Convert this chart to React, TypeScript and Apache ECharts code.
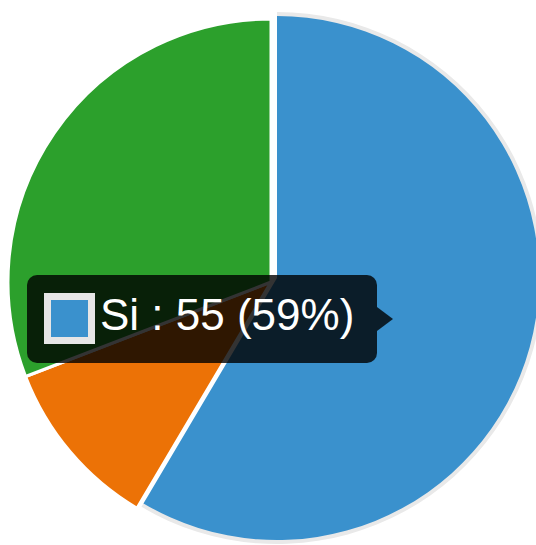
import React, { useEffect, useRef } from "react";
import * as echarts from "echarts";

const names = ["Si", "No", "Tal vez"];
const values = [55, 10, 29];
const colors = ["#3a91cd", "#ec7206", "#2ca02c"];
const hoveredIndex = 0;

export default function App() {
  const ref = useRef<HTMLDivElement>(null);

  useEffect(() => {
    document.body.style.margin = "0";
    if (!ref.current) return;
    const chart = echarts.init(ref.current, null, { renderer: "svg" });

    const total = values.reduce((a, b) => a + b, 0);
    const pct = Math.round((values[hoveredIndex] / total) * 100);
    const tipText = `${names[hoveredIndex]} : ${values[hoveredIndex]} (${pct}%)`;

    const baseData = values.map((v, i) => ({
      name: names[i],
      value: v,
      itemStyle:
        i === hoveredIndex
          ? { color: "rgba(0,0,0,0)", borderWidth: 0 }
          : { color: colors[i], borderColor: "#ffffff", borderWidth: 3 },
    }));

    const ringData = values.map((v, i) => ({
      name: names[i],
      value: v,
      itemStyle:
        i === hoveredIndex
          ? { color: "#e9e9e9", borderWidth: 0 }
          : { color: "rgba(0,0,0,0)", borderWidth: 0 },
    }));

    const hoverData = values.map((v, i) => ({
      name: names[i],
      value: v,
      itemStyle:
        i === hoveredIndex
          ? { color: colors[i], borderWidth: 0 }
          : { color: "rgba(0,0,0,0)", borderWidth: 0 },
    }));

    const common = {
      type: "pie" as const,
      startAngle: 90,
      clockwise: true,
      silent: true,
      label: { show: false },
      labelLine: { show: false },
      emphasis: { disabled: true },
    };

    chart.setOption({
      animation: false,
      backgroundColor: "#ffffff",
      series: [
        { ...common, center: [271, 282], radius: 263, data: baseData, z: 1 },
        { ...common, center: [277, 278], radius: [255, 266], data: ringData, z: 2 },
        { ...common, center: [277, 278], radius: 262, data: hoverData, z: 3 },
      ],
      graphic: [
        {
          type: "rect",
          z: 100,
          shape: { x: 27, y: 275, width: 350, height: 88, r: 10 },
          style: { fill: "rgba(0,0,0,0.8)" },
        },
        {
          type: "polygon",
          z: 100,
          shape: { points: [[377, 307], [393, 319], [377, 331]] },
          style: { fill: "rgba(0,0,0,0.8)" },
        },
        {
          type: "rect",
          z: 101,
          shape: { x: 44, y: 293, width: 51, height: 51 },
          style: { fill: "#e6e6e6" },
        },
        {
          type: "rect",
          z: 102,
          shape: { x: 51, y: 300, width: 37, height: 37 },
          style: { fill: colors[hoveredIndex] },
        },
        {
          type: "text",
          z: 102,
          x: 100,
          y: 314,
          style: {
            text: tipText,
            fill: "#ffffff",
            font: "44px 'Liberation Sans', Arial, sans-serif",
            verticalAlign: "middle",
            align: "left",
          },
        },
      ],
    });

    return () => chart.dispose();
  }, []);

  return <div ref={ref} style={{ width: 536, height: 545 }} />;
}
